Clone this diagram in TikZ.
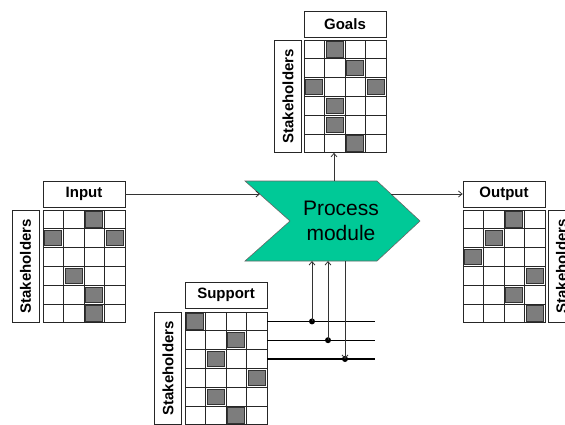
\documentclass[tikz,border=0pt]{standalone}
\usepackage{fontspec}
\setmainfont{Liberation Sans}
\usetikzlibrary{arrows.meta}
\definecolor{processgreen}{RGB}{0,201,151}
\definecolor{cellgray}{RGB}{125,125,125}

\newcommand{\stakegrid}[3]{%
  \begin{scope}[shift={(#1,#2)}]
    \foreach \c/\r in {#3}
      \draw[cell] ({(\c-1)*20.5+1.8},{(\r-1)*18.8+1.8}) rectangle ++(16.9,15.2);
    \foreach \i in {0,...,4}
      \draw[gridline] ({\i*20.5},0) -- ({\i*20.5},112.8);
    \foreach \j in {0,...,6}
      \draw[gridline] (0,{\j*18.8}) -- (82,{\j*18.8});
  \end{scope}}

\begin{document}
\begin{tikzpicture}[x=1pt, y=-1pt,
    gridline/.style = {black!85, line width=0.8pt},
    cell/.style = {fill=cellgray, draw=black!80, line width=0.8pt},
    titlebox/.style = {draw=black!85, line width=0.8pt, minimum width=82pt, minimum height=26pt,
      inner sep=0pt, font=\fontsize{15}{18}\selectfont\bfseries},
    stakebox/.style = {draw=black!85, line width=0.8pt, rotate=90, minimum width=112.8pt,
      minimum height=27pt, inner sep=0pt, font=\fontsize{15}{18}\selectfont\bfseries},
    conn/.style = {black!80, line width=0.8pt, -{Straight Barb[length=3.5pt, width=6pt]}},
    bus/.style = {black, line width=1.4pt},
    dot/.style = {circle, fill=black, inner sep=0pt, minimum size=6pt}]
    \useasboundingbox (0,0) rectangle (565,424);

    \fill[processgreen] (245,181) -- (377,181) -- (420,221) -- (377,261) -- (245,261) -- (290,221) -- cycle;
    \draw[black!60, line width=0.6pt] (245,181) -- (377,181) -- (420,221) -- (377,261) -- (245,261) -- (290,221) -- cycle;
    \node[align=center, font=\fontsize{21}{25}\selectfont] (pm) at (341,221) {Process\\module};

    \node[titlebox] (goals) at (345,24) {Goals};
    \node[stakebox] (goalsst) at (288,96.4) {Stakeholders};
    \stakegrid{304}{40}{2/1, 3/2, 1/3, 4/3, 2/4, 2/5, 3/6}

    \node[titlebox] (input) at (84,194) {Input};
    \node[stakebox] (inputst) at (25.5,266.4) {Stakeholders};
    \stakegrid{43}{210}{3/1, 1/2, 4/2, 2/4, 3/5, 3/6}

    \node[titlebox] (support) at (226,295) {Support};
    \node[stakebox] (supportst) at (168,368.4) {Stakeholders};
    \stakegrid{185}{312}{1/1, 3/2, 2/3, 4/4, 2/5, 3/6}

    \node[titlebox] (output) at (504,194) {Output};
    \node[stakebox] (outputst) at (561.5,266.4) {Stakeholders};
    \stakegrid{463}{210}{3/1, 2/2, 1/3, 4/4, 3/5, 4/6}

    \coordinate (inhit) at (260,194);
    \coordinate (outfrom) at (391,194);
    \coordinate (gfrom) at (334,181);
    \coordinate (gto) at (334,152.8);
    \draw[conn] (input.east) -- (inhit);
    \draw[conn] (outfrom) -- (output.west);
    \draw[conn] (gfrom) -- (gto);

    \coordinate (b1) at (267,321.4);
    \coordinate (b2) at (267,340.2);
    \coordinate (b3) at (267,359);
    \coordinate (e1) at (375,321.4);
    \coordinate (e2) at (375,340.2);
    \coordinate (e3) at (375,359);
    \draw[bus] (b1) -- (e1);
    \draw[bus] (b2) -- (e2);
    \draw[bus] (b3) -- (e3);
    \node[dot] (d1) at (312,321.4) {};
    \node[dot] (d2) at (328,340.2) {};
    \node[dot] (d3) at (345,359) {};
    \coordinate (t1) at (312,261);
    \coordinate (t2) at (328,261);
    \coordinate (t3) at (345,261);
    \draw[conn] (d1.center) -- (t1);
    \draw[conn] (d2.center) -- (t2);
    \draw[conn] (t3) -- (d3.center);
\end{tikzpicture}
\end{document}
